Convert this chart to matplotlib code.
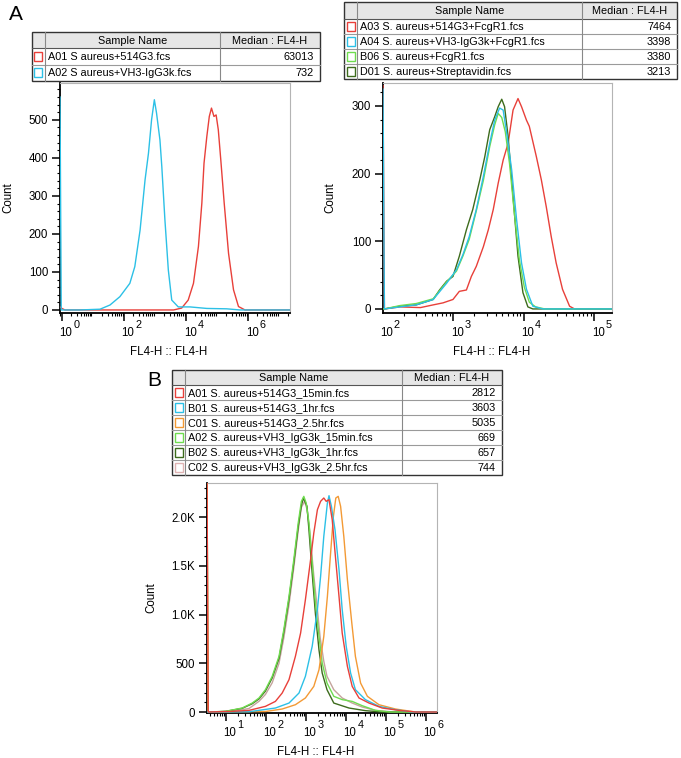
import numpy as np
import matplotlib
matplotlib.use("Agg")
import matplotlib.pyplot as plt
import matplotlib.patches as patches
from matplotlib.ticker import LogLocator, MultipleLocator, NullFormatter, FixedLocator

plt.rcParams['font.family'] = ['Liberation Sans', 'DejaVu Sans']

#%% colours
RED = '#e8403a'
CYAN = '#2cc0e6'
LGREEN = '#6fdc4f'
DGREEN = '#3d6b1c'
ORANGE = '#f39a35'
PINK = '#c4a49c'

#%% table contents
a1_names = ['A01 S aureus+514G3.fcs', 'A02 S aureus+VH3-IgG3k.fcs']
a1_medians = ['63013', '732']
a1_colors = [RED, CYAN]

a2_names = ['A03 S. aureus+514G3+FcgR1.fcs', 'A04 S. aureus+VH3-IgG3k+FcgR1.fcs',
            'B06 S. aureus+FcgR1.fcs', 'D01 S. aureus+Streptavidin.fcs']
a2_medians = ['7464', '3398', '3380', '3213']
a2_colors = [RED, CYAN, LGREEN, DGREEN]

b_names = ['A01 S. aureus+514G3_15min.fcs', 'B01 S. aureus+514G3_1hr.fcs',
           'C01 S. aureus+514G3_2.5hr.fcs', 'A02 S. aureus+VH3_IgG3k_15min.fcs',
           'B02 S. aureus+VH3_IgG3k_1hr.fcs', 'C02 S. aureus+VH3_IgG3k_2.5hr.fcs']
b_medians = ['2812', '3603', '5035', '669', '657', '744']
b_colors = [RED, CYAN, ORANGE, LGREEN, DGREEN, '#dfb3b3']

#%% histogram traces (log10 FL4-H, count)
a1_blue_log = [-0.06, -0.02, 0.58, 1.23, 1.55, 1.87, 2.19, 2.35, 2.52, 2.68, 2.79, 2.89, 2.98,
               3.05, 3.16, 3.22, 3.32, 3.43, 3.54, 3.75, 4.13, 4.67, 5.31, 5.74, 7.35]
a1_blue_cnt = [560, 0, 0, 2, 13, 35, 70, 114, 210, 342, 412, 500, 553,
               518, 447, 377, 237, 105, 26, 8, 8, 4, 3, 0, 0]
a1_red_log = [-0.06, 0.0, 0.1, 3.6, 3.86, 4.07, 4.24, 4.40, 4.51, 4.58, 4.67, 4.75, 4.82,
              4.90, 4.97, 5.04, 5.12, 5.23, 5.37, 5.53, 5.69, 5.90, 7.35]
a1_red_cnt = [8, 4, 0, 0, 5, 26, 70, 167, 281, 386, 456, 509, 531,
              509, 513, 474, 395, 281, 149, 53, 9, 0, 0]

a2_red_log = [2.01, 2.03, 2.25, 2.54, 2.72, 2.86, 3.00, 3.09, 3.19, 3.26, 3.33, 3.43, 3.50,
              3.57, 3.64, 3.71, 3.78, 3.85, 3.92, 3.97, 4.04, 4.08, 4.18, 4.25, 4.32, 4.39,
              4.46, 4.55, 4.65, 4.72, 5.25]
a2_red_cnt = [330, 0, 3, 2, 6, 9, 14, 26, 28, 48, 63, 92, 117,
              147, 186, 220, 245, 294, 311, 299, 279, 270, 225, 191, 151, 107,
              68, 29, 4, 0, 0]
a2_dgreen_log = [2.01, 2.03, 2.25, 2.48, 2.72, 2.81, 2.91, 3.00, 3.09, 3.19, 3.28, 3.38, 3.45,
                 3.52, 3.59, 3.64, 3.69, 3.73, 3.78, 3.85, 3.92, 3.99, 4.06, 4.13, 5.25]
a2_dgreen_cnt = [0, 0, 4, 6, 14, 28, 41, 48, 78, 117, 147, 191, 225,
                 265, 284, 299, 310, 299, 255, 166, 78, 24, 3, 0, 0]
a2_lgreen_log = [2.01, 2.03, 2.25, 2.48, 2.72, 2.91, 3.05, 3.14, 3.23, 3.33, 3.43, 3.52, 3.59,
                 3.64, 3.69, 3.74, 3.80, 3.87, 3.94, 4.01, 4.08, 4.17, 4.30, 5.25]
a2_lgreen_cnt = [0, 0, 5, 8, 15, 40, 56, 78, 103, 145, 190, 240, 272,
                 289, 283, 262, 215, 140, 72, 32, 10, 3, 0, 0]
a2_cyan_log = [2.01, 2.03, 2.25, 2.48, 2.72, 2.91, 3.05, 3.14, 3.23, 3.33, 3.43, 3.52, 3.59,
               3.66, 3.71, 3.76, 3.83, 3.90, 3.97, 4.04, 4.13, 4.27, 5.25]
a2_cyan_cnt = [325, 0, 3, 6, 14, 38, 58, 80, 107, 147, 196, 245, 279,
               297, 294, 260, 206, 132, 68, 29, 4, 0, 0]

b_red_log = [0.53, 0.56, 1.16, 1.58, 1.99, 2.24, 2.41, 2.58, 2.74, 2.87, 2.99, 3.12, 3.20,
             3.29, 3.37, 3.45, 3.51, 3.58, 3.66, 3.74, 3.83, 3.91, 4.04, 4.16, 4.33, 4.58,
             4.91, 5.33, 5.75, 6.28]
b_red_cnt = [2400, 0, 7, 17, 58, 109, 195, 332, 571, 810, 1152, 1563, 1836,
             2075, 2161, 2195, 2161, 2178, 1973, 1597, 1186, 810, 468, 263, 144, 92,
             41, 17, 0, 0]
b_cyan_log = [0.53, 0.56, 1.58, 2.24, 2.58, 2.83, 2.99, 3.16, 3.29, 3.37, 3.45, 3.54, 3.58,
              3.64, 3.73, 3.83, 3.91, 4.01, 4.12, 4.24, 4.49, 4.83, 5.24, 5.66, 6.28]
b_cyan_cnt = [0, 0, 3, 41, 92, 195, 366, 674, 1050, 1392, 1802, 2144, 2219,
              2110, 1870, 1460, 1050, 674, 400, 229, 127, 58, 24, 0, 0]
b_orange_log = [0.53, 0.56, 1.99, 2.41, 2.74, 2.99, 3.20, 3.33, 3.45, 3.54, 3.62, 3.69, 3.75,
                3.81, 3.87, 3.95, 4.04, 4.15, 4.24, 4.37, 4.54, 4.83, 5.24, 5.75, 6.28]
b_orange_cnt = [2400, 0, 5, 31, 75, 144, 263, 434, 776, 1186, 1631, 2007, 2195,
                2212, 2110, 1802, 1357, 913, 571, 297, 161, 75, 31, 0, 0]
b_lgreen_log = [0.53, 0.56, 0.99, 1.41, 1.66, 1.83, 1.99, 2.16, 2.33, 2.45, 2.58, 2.70, 2.81,
                2.89, 2.95, 3.01, 3.08, 3.16, 3.24, 3.33, 3.41, 3.53, 3.70, 3.91, 4.16, 4.41,
                4.74, 5.10, 6.28]
b_lgreen_cnt = [2400, 0, 7, 41, 92, 144, 229, 366, 571, 844, 1186, 1563, 1939,
                2161, 2212, 2144, 1939, 1528, 1118, 776, 503, 297, 161, 127, 109, 65,
                17, 0, 0]
b_dgreen_log = [0.53, 0.56, 0.99, 1.41, 1.66, 1.83, 1.99, 2.16, 2.33, 2.45, 2.58, 2.70, 2.81,
                2.89, 2.94, 3.03, 3.08, 3.16, 3.24, 3.33, 3.41, 3.53, 3.70, 4.08, 4.49, 4.90, 6.28]
b_dgreen_cnt = [0, 0, 6, 38, 85, 135, 215, 350, 550, 820, 1160, 1530, 1900,
                2120, 2195, 2110, 1860, 1420, 1010, 636, 400, 229, 92, 41, 14, 0, 0]
b_pink_log = [0.53, 0.56, 1.16, 1.58, 1.83, 1.99, 2.16, 2.33, 2.45, 2.58, 2.70, 2.81, 2.89,
              2.97, 3.03, 3.10, 3.20, 3.28, 3.36, 3.45, 3.53, 3.70, 3.91, 4.16, 4.41, 4.74,
              5.20, 6.28]
b_pink_cnt = [0, 0, 7, 36, 110, 180, 300, 500, 760, 1100, 1480, 1860, 2100,
              2160, 2080, 1850, 1400, 1090, 760, 520, 366, 229, 144, 92, 51, 17,
              0, 0]

W, H = 681, 758


def px_rect(x0, y0, x1, y1):
    """figure fraction rect from pixel box (top-left origin)"""
    return [x0 / W, 1 - y1 / H, (x1 - x0) / W, (y1 - y0) / H]


def draw_table(tab, x0, y0, cols, hdr_h, row_h, names, medians, colors):
    x_cb, x_split, x1 = cols
    n = len(names)
    y_hdr = y0 + hdr_h
    y1 = y_hdr + n * row_h
    # header background
    tab.add_patch(patches.Rectangle((x0, y0), x1 - x0, hdr_h, facecolor='#e6e6e6',
                                    edgecolor='none'))
    # row lines
    for i in range(n):
        yy = y_hdr + i * row_h
        tab.plot([x0, x1], [yy, yy], color='#9a9a9a' if i else '#555555', lw=0.8)
    tab.plot([x_cb, x_cb], [y0, y1], color='#888888', lw=0.8)
    tab.plot([x_split, x_split], [y0, y1], color='#888888', lw=0.8)
    tab.add_patch(patches.Rectangle((x0, y0), x1 - x0, y1 - y0, facecolor='none',
                                    edgecolor='#333333', lw=1.0))
    tab.text((x_cb + x_split) / 2, y0 + hdr_h / 2 + 0.5, 'Sample Name', ha='center',
             va='center', fontsize=7.8)
    tab.text((x_split + x1) / 2, y0 + hdr_h / 2 + 0.5, 'Median : FL4-H', ha='center',
             va='center', fontsize=7.8)
    for i, (nm, md, c) in enumerate(zip(names, medians, colors)):
        yc = y_hdr + (i + 0.5) * row_h
        tab.add_patch(patches.Rectangle(((x0 + x_cb) / 2 - 4, yc - 4.5), 8, 9,
                                        facecolor='white', edgecolor=c, lw=1.0))
        tab.text(x_cb + 3, yc + 0.5, nm, ha='left', va='center', fontsize=7.8)
        tab.text(x1 - 6, yc + 0.5, md, ha='right', va='center', fontsize=7.8)


def style_axis(ax, xlog_lim, ylim, yticks, yminor, ylabels, decades, ylab_off):
    ax.set_xscale('log')
    ax.set_xlim(10 ** xlog_lim[0], 10 ** xlog_lim[1])
    ax.set_ylim(*ylim)
    ax.xaxis.set_major_locator(FixedLocator([10.0 ** d for d in decades]))
    ax.xaxis.set_minor_locator(LogLocator(base=10, subs=np.arange(2, 10), numticks=30))
    ax.xaxis.set_major_formatter(NullFormatter())
    ax.xaxis.set_minor_formatter(NullFormatter())
    ax.set_yticks(yticks)
    ax.set_yticklabels(ylabels)
    ax.yaxis.set_minor_locator(MultipleLocator(yminor))
    ax.tick_params(axis='both', which='major', direction='out', length=5.5, width=1.1,
                   labelsize=8.3, pad=3)
    ax.tick_params(axis='both', which='minor', direction='out', length=2.5, width=0.8)
    for s in ['left', 'bottom']:
        ax.spines[s].set_linewidth(1.3)
        ax.spines[s].set_color('black')
    for s in ['top', 'right']:
        ax.spines[s].set_linewidth(0.8)
        ax.spines[s].set_color('#b4b4b4')
    for d in decades:
        ax.annotate('10', xy=(10.0 ** d, 0), xycoords=ax.get_xaxis_transform(),
                    xytext=(3, -14.5), textcoords='offset points', ha='center',
                    va='center', fontsize=8.3)
        ax.annotate(str(d), xy=(10.0 ** d, 0), xycoords=ax.get_xaxis_transform(),
                    xytext=(10.5, -8.8), textcoords='offset points', ha='center',
                    va='center', fontsize=7.8)
    ax.set_ylabel('Count', fontsize=8.3, va='center')
    ax.yaxis.set_label_coords(-ylab_off / 230, 0.5)
    ax.set_xlabel('FL4-H :: FL4-H', fontsize=8.3, va='center')
    ax.xaxis.set_label_coords(0.474, -39 / 230)


def trace(ax, logs, cnts, color):
    ax.plot(10.0 ** np.array(logs), cnts, color=color, lw=1.0, zorder=3)


#%% main
def main():
    fig = plt.figure(figsize=(W / 100, H / 100), dpi=100)

    tab = fig.add_axes([0, 0, 1, 1])
    tab.set_xlim(0, W)
    tab.set_ylim(H, 0)
    tab.axis('off')

    draw_table(tab, 32, 32, (44.5, 220, 320), 16.3, 16.3, a1_names, a1_medians, a1_colors)
    draw_table(tab, 344, 2, (357, 582, 677), 17, 15, a2_names, a2_medians, a2_colors)
    draw_table(tab, 172, 370, (185, 402, 502), 15, 15, b_names, b_medians, b_colors)

    tab.text(16, 15, 'A', ha='center', va='center', fontsize=15)
    tab.text(154, 381, 'B', ha='center', va='center', fontsize=15)

    # panel A left
    ax1 = fig.add_axes(px_rect(60, 83, 290, 313))
    trace(ax1, a1_red_log, a1_red_cnt, RED)
    trace(ax1, a1_blue_log, a1_blue_cnt, CYAN)
    style_axis(ax1, (-0.06, 7.35), (-8, 597), [0, 100, 200, 300, 400, 500], 20,
               ['0', '100', '200', '300', '400', '500'], [0, 2, 4, 6], 52)

    # panel A right
    ax2 = fig.add_axes(px_rect(383, 83, 612, 313))
    trace(ax2, a2_red_log, a2_red_cnt, RED)
    trace(ax2, a2_dgreen_log, a2_dgreen_cnt, DGREEN)
    trace(ax2, a2_lgreen_log, a2_lgreen_cnt, LGREEN)
    trace(ax2, a2_cyan_log, a2_cyan_cnt, CYAN)
    style_axis(ax2, (2.01, 5.25), (-6, 334), [0, 100, 200, 300], 20,
               ['0', '100', '200', '300'], [2, 3, 4, 5], 53)

    # panel B
    ax3 = fig.add_axes(px_rect(207, 483, 437, 713))
    trace(ax3, b_pink_log, b_pink_cnt, PINK)
    trace(ax3, b_dgreen_log, b_dgreen_cnt, DGREEN)
    trace(ax3, b_lgreen_log, b_lgreen_cnt, LGREEN)
    trace(ax3, b_orange_log, b_orange_cnt, ORANGE)
    trace(ax3, b_cyan_log, b_cyan_cnt, CYAN)
    trace(ax3, b_red_log, b_red_cnt, RED)
    style_axis(ax3, (0.53, 6.28), (-10, 2349), [0, 500, 1000, 1500, 2000], 100,
               ['0', '500', '1.0K', '1.5K', '2.0K'], [1, 2, 3, 4, 5, 6], 56)

    fig.savefig('out.png', dpi=100)


if __name__ == "__main__":
    main()
